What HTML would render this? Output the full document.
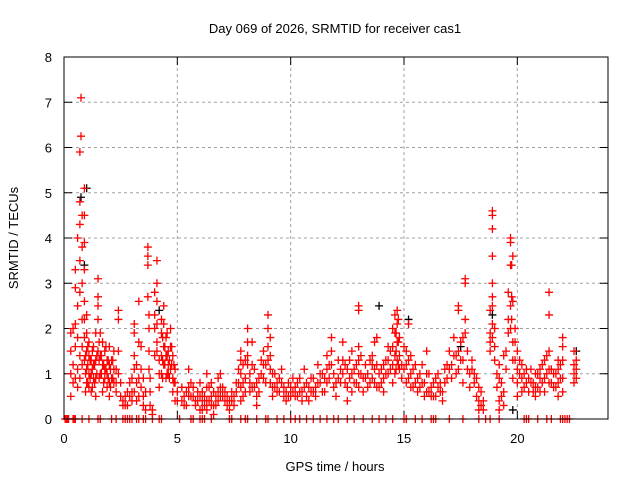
<!DOCTYPE html>
<html><head><meta charset="utf-8"><style>
body{margin:0;background:#fff;}
svg text{font-family:"Liberation Sans",sans-serif;font-size:13px;fill:#000;}
</style></head><body>
<svg id="chart" width="640" height="480">
<text x="335" y="33" text-anchor="middle">Day 069 of 2026, SRMTID for receiver cas1</text>
<text x="335" y="471" text-anchor="middle">GPS time / hours</text>
<text x="18" y="238" text-anchor="middle" transform="rotate(-90 18 238)">SRMTID / TECUs</text>
<g id="grid"></g><g id="ticks"></g><g id="marks"></g>
<rect x="64" y="57" width="544" height="362" fill="none" stroke="#000" stroke-width="1"/>
</svg>
<script>
const xTicks=[0,5,10,15,20];
const yTicks=[0,1,2,3,4,5,6,7,8];
const hours=[0.3,0.4,0.5,0.6,0.7,0.75,0.8,0.9,1.0,1.1,1.2,1.3,1.4,1.5,1.6,1.7,1.8,1.9,2.0,2.1,2.2,2.3,2.4,2.5,2.6,2.7,2.8,2.9,3.0,3.1,3.2,3.3,3.4,3.5,3.6,3.7,3.75,3.8,3.9,4.0,4.1,4.2,4.3,4.4,4.5,4.6,4.7,4.8,4.9,5.0,5.3,5.5,5.6,5.8,6.0,6.1,6.3,6.5,6.6,6.8,6.9,7.0,7.3,7.5,7.6,7.8,7.9,8.1,8.2,8.3,8.5,8.8,9.0,9.1,9.2,9.5,9.6,9.8,10.0,10.1,10.3,10.5,10.6,10.8,10.9,11.2,11.4,11.6,11.8,11.9,12.0,12.3,12.5,12.7,12.9,13.0,13.2,13.4,13.6,13.7,13.8,13.9,14.1,14.3,14.5,14.6,14.7,14.8,14.9,15.1,15.2,15.4,15.6,15.8,16.0,16.2,16.4,16.5,16.7,16.9,17.0,17.1,17.2,17.4,17.6,17.7,17.8,17.9,18.0,18.2,18.3,18.4,18.5,18.8,18.9,19.0,19.2,19.4,19.6,19.7,19.8,19.9,20.0,20.2,20.4,20.5,20.8,21.0,21.2,21.4,21.6,21.8,22.0,22.5,22.6,
0.95,1.05,1.15,1.25,1.35,1.45,1.55,1.65,1.75,1.85,1.95,2.05,2.15,4.35,4.45,4.55,4.65,4.75,4.85,5.2,5.4,5.7,5.9,6.2,6.4,6.7,7.1,7.2,7.4,7.7,8.0,8.4,8.6,8.7,8.9,9.3,9.4,9.7,9.9,10.2,10.4,10.7,11.0,11.1,11.3,11.5,11.7,12.1,12.2,12.4,12.6,12.8,13.1,13.3,13.5,14.0,14.2,14.4,14.65,14.75,15.0,15.3,15.5,15.7,15.9,16.1,16.3,16.6,16.8,17.3,17.5,18.1,19.1,19.3,19.5,19.75,20.1,20.3,20.6,20.7,20.9,21.1,21.3,21.5,21.7,21.9];
const values=[[1.0,1.5,1.9,0.5],[2.0,1.2,0.8],[3.3,2.9,2.1,1.6,0.9],[4.0,2.5,1.8,1.1,0.7],[5.9,4.8,4.3,3.5,2.8,1.4,0.9],[7.1,6.25],[4.5,3.8,3.0,2.2,1.6,1.2],[5.1,4.5,3.9,3.3,2.6,2.2,1.8,1.3],[2.3,1.9,1.5,1.1,0.8],[1.7,1.4,1.0,0.7],[1.3,1.0,0.6],[1.6,1.2,0.9],[1.9,1.3,0.9,0.5],[2.7,3.1,2.5,2.2,1.5],[1.9,1.4,1.0],[1.7,1.2,0.6],[1.5,1.1,0.9],[1.3,1.0,0.7],[1.6,1.2,0.8,0.5],[1.3,0.9],[1.5,1.1,0.8],[1.1,0.8,0.6],[2.4,2.2,1.5,1.0],[0.8,0.5],[0.4,0.3],[0.5,0.3],[0.6,0.3],[0.8,0.5],[0.9,0.6,0.4],[1.9,2.1,1.4,1.1,0.6],[1.2,0.8,0.4],[2.6,1.7,0.9,0.5],[1.6,1.1,0.7],[0.9,0.5,0.3],[0.6,0.2],[3.8,3.6,3.4,2.7],[2.3,2.0,1.5,1.1],[0.9,0.6,0.3],[0.2,0.1],[2.3,2.8,2.0,1.4],[3.5,3.0,2.6,2.1,1.7,1.5],[1.3,1.0,0.7],[2.2,1.9,1.4,1.0],[2.5,2.1,1.6,1.2],[1.8,1.4,0.9],[1.5,1.2,1.0],[2.0,1.6,1.1],[1.4,0.9,0.6],[1.1,0.8,0.4],[0.6,0.4],[0.5,0.3],[1.1,0.7,0.5],[0.8,0.5],[0.4,0.3],[0.8,0.5,0.2],[0.6,0.4,0.2],[1.0,0.7,0.4,0.2],[0.8,0.5,0.3],[0.6,0.3,0.1],[0.9,0.6,0.4],[1.0,0.7,0.5],[0.7,0.5],[0.4,0.2],[0.5,0.3],[0.8,0.6],[1.5,1.3,1.0,0.7,0.4],[1.2,0.8,0.5],[2.0,1.7,1.4,1.2],[1.0,0.8,0.6],[1.7,1.2,0.7],[0.8,0.5,0.3],[1.5,1.2,0.9],[2.3,2.0,1.6,1.3],[1.8,1.4,1.1,0.8],[1.0,0.7,0.5],[0.9,0.6],[1.1,0.8],[0.6,0.4],[0.7,0.5],[0.9,0.6],[0.8,0.5],[0.6,0.4],[1.1,0.7],[0.7,0.4],[0.9,0.6],[1.2,0.8],[1.0,0.6],[1.4,1.1,0.8],[1.8,1.5,1.2],[1.0,0.7],[0.8,0.5],[1.7,1.3,1.0],[1.1,0.7,0.4],[1.5,1.0,0.6],[1.2,0.8],[2.5,2.4,1.6,1.3,1.0,0.7],[0.9,0.6],[1.0,0.7],[1.4,1.2,0.9],[1.7,1.1,0.8],[1.8,1.2,0.7],[1.0,0.7],[1.2,0.9,0.6],[1.6,1.3,1.0],[2.0,1.6,1.2,0.8],[2.3,1.9,1.4,1.0],[2.4,2.1,1.7,1.3],[1.8,1.4,1.1],[1.2,0.9],[1.5,1.2,0.8],[2.1,1.3,0.9],[1.1,0.7],[0.9,0.6],[1.2,0.8],[1.5,1.0,0.6],[0.7,0.5],[0.9,0.5],[1.0,0.7],[0.6,0.4],[1.2,0.9],[1.5,1.1],[1.2,0.9],[1.8,1.4],[2.5,2.4,1.5,1.1],[1.8,1.3,0.8],[3.1,3.0,2.2,1.9],[1.5,1.1],[1.0,0.7],[1.3,1.1],[0.9,0.5],[0.7,0.4,0.2],[0.6,0.3],[0.4,0.2],[1.9,1.7,1.5,2.4],[4.6,4.5,4.2,3.6,3.0,2.7,2.5,2.1,1.8],[2.0,1.6,1.3],[1.2,0.9,0.4,0.2],[1.4,0.6,0.3],[2.8,1.9,2.2],[4.0,3.9,3.4,2.5,2.0],[3.6,2.6,1.7,1.3,0.9],[2.0,1.7,1.3],[1.5,1.1,0.8,0.5],[1.2,0.9,0.6],[1.1,0.8],[0.9,0.6],[1.0,0.7,0.5],[1.1,0.9,0.6],[1.3,0.9,0.6],[2.8,2.3,1.5,1.1,0.8],[1.0,0.7],[1.3,1.1,0.8,0.5],[1.8,1.6,1.3,0.9,0.6],[1.5,1.2,1.0,0.8],[1.3,1.1,0.9],
[1.4,1.0,0.6],[1.6,1.2,0.8],[1.3,0.9],[1.5,1.1,0.7],[1.2,0.8],[1.4,1.0],[1.7,1.3,0.9],[1.4,1.0],[1.2,0.8],[1.6,1.1],[1.3,0.9],[1.1,0.7],[1.3,0.9],[1.8,1.3,0.9],[1.6,1.2],[1.9,1.4,1.0],[1.3,0.9],[1.6,1.2],[1.2,0.8],[0.7,0.4],[0.6,0.3],[0.7,0.5],[0.6,0.4],[0.5,0.3],[0.7,0.4],[0.5,0.3],[0.6,0.4],[0.5,0.3],[0.6,0.4],[1.1,0.8],[1.3,0.9,0.6],[1.1,0.7],[0.9,0.6],[1.3,1.0],[1.2,0.8],[1.0,0.7],[0.8,0.6],[0.7,0.5],[0.8,0.5],[0.7,0.5],[0.9,0.6],[0.8,0.5],[0.9,0.6],[0.7,0.5],[1.0,0.8],[0.9,0.6],[1.2,0.9],[1.3,0.9],[1.1,0.8],[1.2,0.8],[1.3,0.9],[1.1,0.8],[1.4,1.0],[1.2,0.9],[1.3,0.8],[1.1,0.8],[1.3,1.0],[1.5,1.1],[1.9,1.5,1.1],[2.2,1.7,1.2],[1.6,1.1],[1.4,1.0,0.7],[1.2,0.8],[1.0,0.7],[0.8,0.5],[1.0,0.6],[0.8,0.5],[0.8,0.6],[1.1,0.8],[1.4,1.0],[1.7,1.3],[1.0,0.8],[1.0,0.7],[0.8,0.5],[1.5,1.1],[3.4,2.7,2.2],[1.3,1.0],[1.0,0.7],[1.1,0.8],[0.8,0.6],[1.0,0.7],[1.2,0.8],[1.4,1.0],[1.1,0.8],[1.0,0.7],[1.2,0.9]];
const zeroHours=[0.05,0.1,0.15,0.2,0.4,0.45,0.5,0.8,1.1,1.5,1.6,2.1,2.3,2.6,2.7,2.8,2.9,3.0,3.2,3.3,3.5,3.6,3.9,4.2,4.3,5.1,5.6,5.7,6.0,6.1,6.2,6.5,7.3,7.4,7.8,8.0,8.1,8.5,8.9,9.0,9.4,9.7,10.0,10.2,10.4,10.7,11.0,11.3,11.6,11.9,12.1,12.5,12.8,13.2,13.6,13.9,14.2,14.5,15.0,15.1,15.5,15.8,16.2,16.3,16.4,17.0,17.6,18.3,18.6,18.8,19.2,20.3,20.4,20.5,20.9,21.3,21.5,21.9,22.0,22.1,22.2,22.3];
const blackHours=[0.75,0.9,1.0,4.2,13.9,15.2,17.5,18.9,19.8,22.6];
const blackValues=[4.9,3.4,5.1,2.4,2.5,2.2,1.6,2.3,0.2,1.5];
const NS='http://www.w3.org/2000/svg';
const X0=64,X1=608,Y0=419,Y1=57;
function xs(h){return X0+h/24*(X1-X0);}
function ys(v){return Y0-v/8*(Y0-Y1);}
function mk(tag,attrs,parent){const e=document.createElementNS(NS,tag);for(const k in attrs)e.setAttribute(k,attrs[k]);parent.appendChild(e);return e;}
const grid=document.getElementById('grid'),ticks=document.getElementById('ticks'),marks=document.getElementById('marks');
yTicks.forEach(v=>{const y=ys(v);
 if(v>0&&v<8){const g=mk('line',{x1:X0,x2:X1,y1:y,y2:y,stroke:'#a0a0a0','stroke-dasharray':'3,3'},grid);
 
 }
 mk('line',{x1:X0,x2:X0+8,y1:y,y2:y,stroke:'#000'},ticks);mk('line',{x1:X1,x2:X1-8,y1:y,y2:y,stroke:'#000'},ticks);
 const t=mk('text',{x:X0-12,y:y+5,'text-anchor':'end'},ticks);t.textContent=v;
 
 });
xTicks.forEach(h=>{const x=xs(h);
 if(h>0){const g=mk('line',{x1:x,x2:x,y1:Y0,y2:Y1,stroke:'#a0a0a0','stroke-dasharray':'3,3'},grid);
 
 }
 mk('line',{x1:x,x2:x,y1:Y0,y2:Y0-8,stroke:'#000'},ticks);mk('line',{x1:x,x2:x,y1:Y1,y2:Y1+8,stroke:'#000'},ticks);
 const t=mk('text',{x:x,y:Y0+24,'text-anchor':'middle'},ticks);t.textContent=h;
 
 });
function plus(h,v,col,name){const x=xs(h),y=ys(v);
 const p=mk('path',{d:`M${x-4},${y}H${x+4}M${x},${y-4}V${y+4}`,stroke:col,'stroke-width':1.3,fill:'none'},marks);
 
 }
blackHours.forEach((h,i)=>plus(h,blackValues[i],'#000','black-point'));
hours.forEach((h,i)=>values[i].forEach(v=>plus(h,v,'#ff0000','srmtid-point')));
zeroHours.forEach(h=>plus(h,0,'#ff0000','zero-point'));
</script>
</body></html>
